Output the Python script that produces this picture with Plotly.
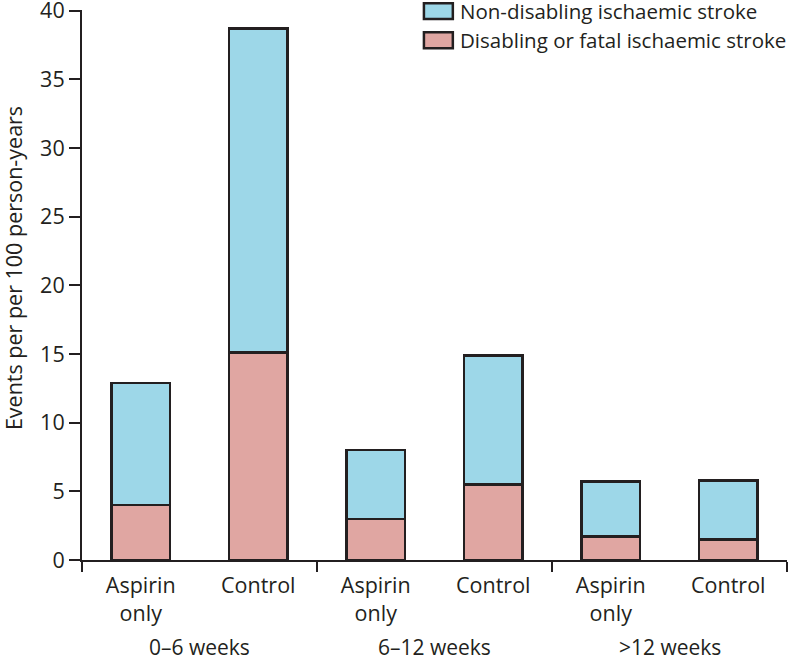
import plotly.graph_objects as go

# Data
periods = ["0–6 weeks", "6–12 weeks", ">12 weeks"]
arms = ["Aspirin<br>only", "Control"]
disabling = [4.0, 15.1, 3.0, 5.5, 1.7, 1.5]
total = [12.9, 38.7, 8.0, 14.9, 5.7, 5.8]
non_disabling = [round(t - d, 2) for t, d in zip(total, disabling)]

xpos = list(range(len(total)))
arm_labels = arms * len(periods)

FONT = "Open Sans, Lato, sans-serif"
FS = 21.5
INK = "#231f20"
BLUE = "#9dd7e8"
PINK = "#e0a6a2"

fig = go.Figure()

fig.add_trace(go.Bar(
    x=xpos, y=disabling, width=0.5,
    marker=dict(color=PINK, line=dict(color=INK, width=2.5)),
    name="Disabling or fatal ischaemic stroke",
))
fig.add_trace(go.Bar(
    x=xpos, y=non_disabling, width=0.5,
    marker=dict(color=BLUE, line=dict(color=INK, width=2.5)),
    name="Non-disabling ischaemic stroke",
))

annotations = []
# period labels under each pair of bars
for i, p in enumerate(periods):
    annotations.append(dict(
        text=p, x=2 * i + 0.5, xref="x", y=-0.158, yref="paper",
        yanchor="middle", showarrow=False,
        font=dict(family=FONT, size=21, color=INK),
    ))

# y axis title
annotations.append(dict(
    text="Events per per 100 person-years", textangle=-90,
    xref="paper", yref="paper", x=-0.097, y=0.53,
    xanchor="center", yanchor="middle", showarrow=False,
    font=dict(family=FONT, size=FS, color=INK),
))

# hand-built legend with large swatches
shapes = []
legend_items = [("Non-disabling ischaemic stroke", BLUE, 0.998),
                ("Disabling or fatal ischaemic stroke", PINK, 0.945)]
for label, col, yc in legend_items:
    shapes.append(dict(
        type="rect", xref="paper", yref="paper",
        x0=0.485, x1=0.526, y0=yc - 0.0145, y1=yc + 0.0145,
        fillcolor=col, line=dict(color=INK, width=2.5),
    ))
    annotations.append(dict(
        text=label, xref="paper", yref="paper", x=0.533, y=yc,
        xanchor="left", yanchor="middle", showarrow=False,
        font=dict(family=FONT, size=20.5, color=INK),
    ))

fig.update_layout(
    width=788, height=660,
    margin=dict(l=82, r=1, t=10, b=100),
    barmode="stack",
    showlegend=False,
    plot_bgcolor="white", paper_bgcolor="white",
    font=dict(family=FONT, size=FS, color=INK),
    xaxis=dict(
        range=[-0.5, 5.5], automargin=False,
        tickmode="array", tickvals=xpos, ticktext=arm_labels,
        ticks="", ticklabelstandoff=5, showgrid=False, zeroline=False,
        showline=True, linecolor=INK, linewidth=2,
        tickfont=dict(family=FONT, size=FS, color=INK),
        minor=dict(tickmode="array", tickvals=[-0.5, 1.5, 3.5, 5.5],
                   ticks="outside", ticklen=10, tickwidth=2, tickcolor=INK,
                   showgrid=False),
    ),
    yaxis=dict(
        range=[0, 40.05], automargin=False,
        tickvals=[0, 5, 10, 15, 20, 25, 30, 35, 40],
        ticks="outside", ticklen=11, tickwidth=2, tickcolor=INK,
        ticklabeloverflow="allow",
        showgrid=False, zeroline=False,
        showline=True, linecolor=INK, linewidth=2,
        tickfont=dict(family=FONT, size=FS, color=INK),
    ),
    shapes=shapes,
    annotations=annotations,
)

# drop the browser's default 8px body margin so the figure fills the window
fig.write_html("out.html", config={"displayModeBar": False},
               post_script="document.body.style.margin='0';")
